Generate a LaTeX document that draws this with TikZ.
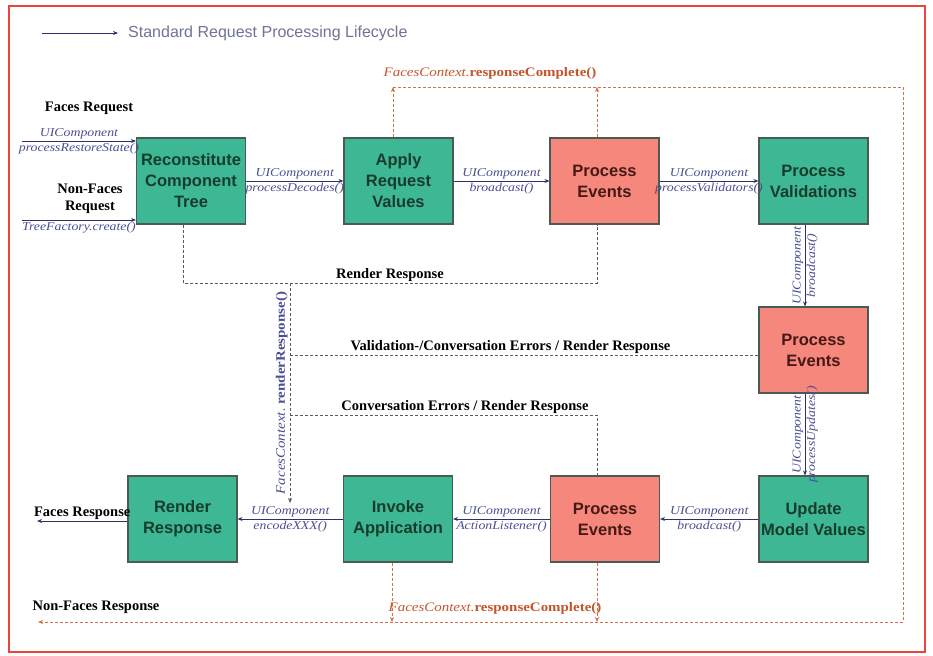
\documentclass[tikz,border=0pt]{standalone}
\usepackage{fontspec}
\setmainfont{Liberation Serif}
\setsansfont{Liberation Sans}
\newfontfamily\labfont{Liberation Serif}[FakeStretch=1.15]
\usetikzlibrary{arrows.meta}
\definecolor{tealbg}{RGB}{62,183,148}
\definecolor{tealtxt}{RGB}{22,60,45}
\definecolor{salmbg}{RGB}{245,135,124}
\definecolor{salmtxt}{RGB}{70,25,20}
\definecolor{boxline}{RGB}{75,90,82}
\definecolor{navyline}{RGB}{45,48,110}
\definecolor{navytxt}{RGB}{75,78,145}
\definecolor{dgray}{RGB}{90,90,90}
\definecolor{orng}{RGB}{215,110,70}
\definecolor{orngtxt}{RGB}{195,85,45}
\definecolor{legendtxt}{RGB}{110,115,150}
\definecolor{framered}{RGB}{232,70,60}
\begin{document}
\begin{tikzpicture}[x=1pt,y=-1pt,
  phase/.style={draw=boxline, line width=1.1pt, minimum width=109pt, minimum height=86pt,
    inner sep=0pt, align=center, font=\sffamily\bfseries\fontsize{16.5}{21}\selectfont},
  tealbox/.style={phase, fill=tealbg, text=tealtxt},
  salmbox/.style={phase, fill=salmbg, text=salmtxt},
  flow/.style={draw=navyline, line width=0.8pt, -{Stealth[length=5pt,width=4pt]}},
  lab/.style={font=\labfont\itshape\fontsize{12}{13}\selectfont, text=navytxt, inner sep=1.5pt},
  gdash/.style={draw=dgray, line width=0.8pt, dash pattern=on 3pt off 2pt},
  odash/.style={draw=orng, line width=0.8pt, dash pattern=on 3pt off 2pt},
  otip/.style={-{Stealth[length=5pt,width=4pt]}},
  blab/.style={font=\bfseries\fontsize{14.5}{17}\selectfont, text=black, inner sep=1pt, align=center},
  olab/.style={font=\labfont\fontsize{13}{15}\selectfont, text=orngtxt, inner sep=1pt},
  vlab/.style={font=\labfont\fontsize{13}{15}\selectfont, text=navytxt, inner sep=2pt}
]
\useasboundingbox (0,0) rectangle (933,655);
\draw[draw=framered, line width=1.2pt] (9,6) rectangle (925,652);

% legend
\coordinate (lg1) at (42,33);
\node (lgt) [anchor=west, inner sep=0pt, text=legendtxt, font=\sffamily\fontsize{16}{18}\selectfont] at (128,33) {Standard Request Processing Lifecycle};
\draw[flow] (lg1) -- ([xshift=-10pt]lgt.west);

% phases
\node[tealbox] (b1) at (191,181) {Reconstitute\\Component\\Tree};
\node[tealbox] (b2) at (398.5,181) {Apply\\Request\\Values};
\node[salmbox] (b3) at (604.5,181) {Process\\Events};
\node[tealbox] (b4) at (813.5,181) {Process\\Validations};
\node[salmbox] (b5) at (813.5,350) {Process\\Events};
\node[tealbox] (b6) at (813.5,519) {Update\\Model Values};
\node[salmbox] (b7) at (605,519) {Process\\Events};
\node[tealbox] (b8) at (398,519) {Invoke\\Application};
\node[tealbox] (b9) at (182.5,519) {Render\\Response};

% inputs
\node[blab] (fr) at (89,108) {Faces Request};
\node[blab] (nfr) at (90,199) {Non-Faces\\Request};
\coordinate (fin) at (22,141);
\coordinate (nfin) at (22,220);
\draw[flow] (fin) -- node[lab,above,pos=0.5]{UIComponent} node[lab,below,pos=0.5]{processRestoreState()} (b1.west |- fin);
\draw[flow] (nfin) -- node[lab,below,pos=0.5]{TreeFactory.create()} (b1.west |- nfin);

% top row
\draw[flow] (b1) -- node[lab,above]{UIComponent} node[lab,below]{processDecodes()} (b2);
\draw[flow] (b2) -- node[lab,above]{UIComponent} node[lab,below]{broadcast()} (b3);
\draw[flow] (b3) -- node[lab,above]{UIComponent} node[lab,below]{processValidators()} (b4);

% right column
\draw[flow] ([xshift=-8.5pt]b4.south) -- node[lab,rotate=90,above]{UIComponent} node[lab,rotate=90,below]{broadcast()} ([xshift=-8.5pt]b5.north);
\draw[flow] ([xshift=-8.5pt]b5.south) -- node[lab,rotate=90,above]{UIComponent} node[lab,rotate=90,below]{processUpdates()} ([xshift=-8.5pt]b6.north);

% bottom row
\draw[flow] (b6) -- node[lab,above]{UIComponent} node[lab,below]{broadcast()} (b7);
\draw[flow] (b7) -- node[lab,above]{UIComponent} node[lab,below]{ActionListener()} (b8);
\draw[flow] (b8) -- node[lab,above]{UIComponent} node[lab,below]{encodeXXX()} (b9);
\coordinate (fout) at (37,521);
\draw[flow] (b9.west |- fout) -- node[blab,above]{Faces Response} (fout);

% render response paths
\coordinate (rrL) at (183,283);
\coordinate (rrR) at (597,283);
\coordinate (cv) at (290,283);
\coordinate (cvEnd) at (290,503);
\draw[gdash] ([xshift=-8pt]b1.south) -- (rrL) -- node[blab,above,pos=0.5]{Render Response} (rrR) -- (b3.south -| rrR);
\draw[gdash,otip] (cv) -- node[vlab,rotate=90,above]{\itshape FacesContext.\ \bfseries\upshape renderResponse()} (cvEnd);
\coordinate (v1) at (290,355);
\coordinate (v2) at (759,355);
\draw[gdash] (v1) -- node[blab,above,pos=0.47]{Validation-/Conversation Errors / Render Response} (v2);
\coordinate (c1) at (290,415);
\coordinate (c2) at (597,415);
\draw[gdash] (c1) -- node[blab,above,pos=0.57]{Conversation Errors / Render Response} (c2) -- (c2 |- b7.north);

% response complete paths
\coordinate (ot1) at (393,87);
\coordinate (ot2) at (597,87);
\coordinate (otR) at (903,87);
\coordinate (obR) at (903,622);
\coordinate (obL) at (38,622);
\coordinate (ob8) at (392,622);
\coordinate (ob7) at (597,622);
\draw[odash,otip] (b2.north -| ot1) -- (ot1);
\draw[odash,otip] (b3.north -| ot2) -- (ot2);
\draw[odash] (ot1) -- (otR) -- (obR);
\draw[odash,otip] (obR) -- (obL);
\draw[odash,otip] (b8.south -| ob8) -- (ob8);
\draw[odash,otip] (b7.south -| ob7) -- (ob7);
\node[olab,anchor=south] (rc1) at (490,80) {\itshape FacesContext.\bfseries\upshape responseComplete()};
\node[olab,anchor=south] (rc2) at (495,615) {\itshape FacesContext.\bfseries\upshape responseComplete()};
\node[blab,anchor=south] (nfo) at (96,615) {Non-Faces Response};
\end{tikzpicture}
\end{document}
